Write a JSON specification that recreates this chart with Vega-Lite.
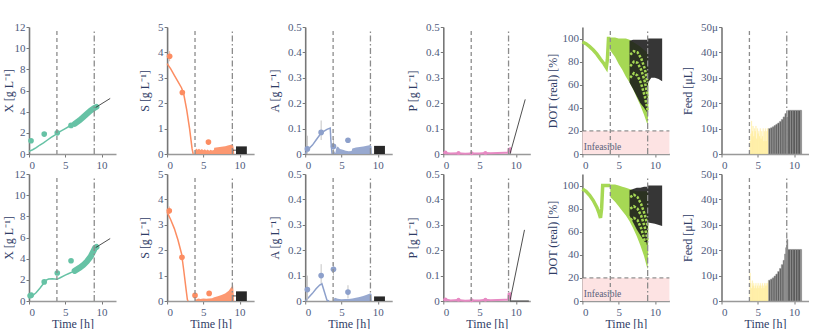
{
"$schema":"https://vega.github.io/schema/vega-lite/v6.json",
"background":"white",
"padding":{"left":2,"top":21,"right":0,"bottom":0},
"columns":6,
"spacing":{"row":-2,"column":10.1},
"concat":[
{"width":87,"height":127,
"encoding":{"x":{"field":"t","type":"quantitative","scale":{"domain":[0,12],"nice":false},"axis":{"values":[0,5,10],"title":null}},"y":{"field":"v","type":"quantitative","scale":{"domain":[0,12],"nice":false},"axis":{"values":[0,2,4,6,8,10,12],"title":"X [g L⁻¹]","minExtent":27,"maxExtent":27,"titleX":-20.7,"titleBaseline":"middle"}}},
"layer":[
{"data":{"values":[{"t":0,"v":0.25},{"t":0.5,"v":0.4},{"t":1,"v":0.6},{"t":1.5,"v":0.85},{"t":2,"v":1.05},{"t":2.5,"v":1.3},{"t":3,"v":1.55},{"t":3.5,"v":1.75},{"t":3.85,"v":1.95},{"t":4.5,"v":2.2},{"t":5,"v":2.4},{"t":5.5,"v":2.6},{"t":6,"v":2.75},{"t":6.3,"v":2.85}]},"mark":{"type":"line","color":"#66c2a5","strokeWidth":1.5}},
{"data":{"values":[{"t":6.3,"v":2.85},{"t":7,"v":3.2},{"t":7.5,"v":3.5},{"t":8,"v":3.8},{"t":8.5,"v":4.1},{"t":9,"v":4.35},{"t":9.3,"v":4.45}]},"mark":{"type":"line","color":"#66c2a5","strokeWidth":6,"strokeCap":"round"}},
{"data":{"values":[{"t":9.2,"v":4.4},{"t":11.2,"v":5.25}]},"mark":{"type":"line","color":"#222222","strokeWidth":0.8}},
{"data":{"values":[{"t":0.28,"v":1.25},{"t":2.1,"v":1.88},{"t":3.9,"v":2.0},{"t":5.8,"v":2.7}]},"mark":{"type":"circle","color":"#66c2a5","size":32,"opacity":1}},
{"data":{"values":[{"t":3.85,"v":0,"v2":11.8,"k":"a"},{"t":9.0,"v":0,"v2":11.8,"k":"b"}]},"mark":{"type":"rule","color":"#8c8c8c","strokeWidth":1.3},"encoding":{"y2":{"field":"v2"},"strokeDash":{"field":"k","type":"nominal","scale":{"domain":["a","b"],"range":[[4,3],[6,2.5,1.5,2.5]]},"legend":null}}}
]},
{"width":87,"height":127,
"encoding":{"x":{"field":"t","type":"quantitative","scale":{"domain":[0,12],"nice":false},"axis":{"values":[0,5,10],"title":null}},"y":{"field":"v","type":"quantitative","scale":{"domain":[0,5],"nice":false},"axis":{"values":[0,1,2,3,4,5],"title":"S [g L⁻¹]","minExtent":41,"maxExtent":41,"titleX":-22.5,"titleBaseline":"middle"}}},
"layer":[
{"data":{"values":[{"t":3.85,"v":0},{"t":3.86,"v":0.15},{"t":4.0,"v":0.22},{"t":4.2,"v":0.17},{"t":4.4,"v":0.21},{"t":4.6,"v":0.16},{"t":4.8,"v":0.2},{"t":5.0,"v":0.15},{"t":5.2,"v":0.19},{"t":5.4,"v":0.14},{"t":5.6,"v":0.18},{"t":5.8,"v":0.13},{"t":6.0,"v":0.17},{"t":6.2,"v":0.14},{"t":6.45,"v":0.16},{"t":6.5,"v":0.25},{"t":7,"v":0.27},{"t":7.5,"v":0.29},{"t":8,"v":0.31},{"t":8.5,"v":0.34},{"t":8.8,"v":0.36},{"t":9.0,"v":0.37},{"t":9.1,"v":0.35},{"t":9.2,"v":0.2},{"t":9.25,"v":0}]},"mark":{"type":"area","color":"#fc8d62","opacity":0.9}},
{"data":{"values":[{"t":0,"v":3.56},{"t":0.5,"v":3.35},{"t":1,"v":3.1},{"t":1.5,"v":2.85},{"t":2,"v":2.6},{"t":2.3,"v":2.35},{"t":2.7,"v":1.75},{"t":3.1,"v":1.0},{"t":3.45,"v":0.2},{"t":3.6,"v":0}]},"mark":{"type":"line","color":"#fc8d62","strokeWidth":1.5}},
{"data":{"values":[{"t":0.35,"v":3.65,"v2":4.05}]},"mark":{"type":"rule","color":"#f5b89e","strokeWidth":1},"encoding":{"y2":{"field":"v2"}}},
{"data":{"values":[{"t":0.35,"v":3.85},{"t":2.1,"v":2.42},{"t":5.7,"v":0.47}]},"mark":{"type":"circle","color":"#fc8d62","size":32,"opacity":1}},
{"data":{"values":[{"t":9.5,"t2":11,"v":0.3}]},"mark":{"type":"rect","color":"#111111","opacity":0.9},"encoding":{"x2":{"field":"t2"},"y2":{"datum":0}}},
{"data":{"values":[{"t":9.0,"v":0.15},{"t":9.5,"v":0.15}]},"mark":{"type":"line","color":"#222222","strokeWidth":0.8}},
{"data":{"values":[{"t":3.85,"v":0,"v2":4.9,"k":"a"},{"t":9.0,"v":0,"v2":4.9,"k":"b"}]},"mark":{"type":"rule","color":"#8c8c8c","strokeWidth":1.3},"encoding":{"y2":{"field":"v2"},"strokeDash":{"field":"k","type":"nominal","scale":{"domain":["a","b"],"range":[[4,3],[6,2.5,1.5,2.5]]},"legend":null}}}
]},
{"width":87,"height":127,
"encoding":{"x":{"field":"t","type":"quantitative","scale":{"domain":[0,12],"nice":false},"axis":{"values":[0,5,10],"title":null}},"y":{"field":"v","type":"quantitative","scale":{"domain":[0,0.5],"nice":false},"axis":{"values":[0,0.1,0.2,0.3,0.4,0.5],"format":"~g","title":"A [g L⁻¹]","minExtent":41,"maxExtent":41,"titleX":-31,"titleBaseline":"middle"}}},
"layer":[
{"data":{"values":[{"t":3.85,"v":0},{"t":3.86,"v":0.03},{"t":4.0,"v":0.012},{"t":4.15,"v":0.003},{"t":4.3,"v":0.025},{"t":4.5,"v":0.03},{"t":4.8,"v":0.02},{"t":5.2,"v":0.017},{"t":5.6,"v":0.013},{"t":6.0,"v":0.011},{"t":6.4,"v":0.012},{"t":6.5,"v":0.022},{"t":7,"v":0.026},{"t":7.5,"v":0.028},{"t":8,"v":0.03},{"t":8.5,"v":0.032},{"t":9,"v":0.035},{"t":9.15,"v":0.03},{"t":9.2,"v":0}]},"mark":{"type":"area","color":"#8da0cb","opacity":0.9}},
{"data":{"values":[{"t":0,"v":0},{"t":0.3,"v":0.015},{"t":1,"v":0.035},{"t":1.5,"v":0.055},{"t":2,"v":0.075},{"t":2.5,"v":0.088},{"t":3,"v":0.097},{"t":3.45,"v":0.102},{"t":3.55,"v":0.05},{"t":3.7,"v":0}]},"mark":{"type":"line","color":"#8da0cb","strokeWidth":1.5}},
{"data":{"values":[{"t":0.3,"v":0,"v2":0.072},{"t":2.2,"v":0.055,"v2":0.132},{"t":3.9,"v":0.005,"v2":0.06},{"t":5.9,"v":0.045,"v2":0.063}]},"mark":{"type":"rule","color":"#c4c4c4","strokeWidth":1},"encoding":{"y2":{"field":"v2"}}},
{"data":{"values":[{"t":0.3,"v":0.02},{"t":2.2,"v":0.085},{"t":3.9,"v":0.03},{"t":5.9,"v":0.054}]},"mark":{"type":"circle","color":"#8da0cb","size":32,"opacity":1}},
{"data":{"values":[{"t":9.5,"t2":11,"v":0.032}]},"mark":{"type":"rect","color":"#111111","opacity":0.9},"encoding":{"x2":{"field":"t2"},"y2":{"datum":0}}},
{"data":{"values":[{"t":3.85,"v":0,"v2":0.49,"k":"a"},{"t":9.0,"v":0,"v2":0.49,"k":"b"}]},"mark":{"type":"rule","color":"#8c8c8c","strokeWidth":1.3},"encoding":{"y2":{"field":"v2"},"strokeDash":{"field":"k","type":"nominal","scale":{"domain":["a","b"],"range":[[4,3],[6,2.5,1.5,2.5]]},"legend":null}}}
]},
{"width":87,"height":127,
"encoding":{"x":{"field":"t","type":"quantitative","scale":{"domain":[0,12],"nice":false},"axis":{"values":[0,5,10],"title":null}},"y":{"field":"v","type":"quantitative","scale":{"domain":[0,0.5],"nice":false},"axis":{"values":[0,0.1,0.2,0.3,0.4,0.5],"format":"~g","title":"P [g L⁻¹]","minExtent":41,"maxExtent":41,"titleX":-31,"titleBaseline":"middle"}}},
"layer":[
{"data":{"values":[{"t":0,"v":0.005},{"t":0.3,"v":0.004},{"t":1,"v":0.002},{"t":2,"v":0.003},{"t":3,"v":0.001},{"t":3.85,"v":0.002},{"t":5,"v":0.002},{"t":5.8,"v":0.004},{"t":6.5,"v":0.003},{"t":7.5,"v":0.004},{"t":8.5,"v":0.005},{"t":8.95,"v":0.005},{"t":9.0,"v":0.02},{"t":9.2,"v":0.022},{"t":9.25,"v":0.005}]},"mark":{"type":"line","color":"#e78ac3","strokeWidth":2}},
{"data":{"values":[{"t":0.3,"v":0.006},{"t":2.1,"v":0.004},{"t":3.9,"v":0.003},{"t":5.8,"v":0.004}]},"mark":{"type":"circle","color":"#e78ac3","size":16,"opacity":1}},
{"data":{"values":[{"t":9.2,"v":0},{"t":11.3,"v":0.215}]},"mark":{"type":"line","color":"#222222","strokeWidth":0.8}},
{"data":{"values":[{"t":3.85,"v":0,"v2":0.49,"k":"a"},{"t":9.0,"v":0,"v2":0.49,"k":"b"}]},"mark":{"type":"rule","color":"#8c8c8c","strokeWidth":1.3},"encoding":{"y2":{"field":"v2"},"strokeDash":{"field":"k","type":"nominal","scale":{"domain":["a","b"],"range":[[4,3],[6,2.5,1.5,2.5]]},"legend":null}}}
]},
{"width":87,"height":127,
"encoding":{"x":{"field":"t","type":"quantitative","scale":{"domain":[0,12],"nice":false},"axis":{"values":[0,5,10],"title":null}},"y":{"field":"v","type":"quantitative","scale":{"domain":[0,110],"nice":false},"axis":{"values":[0,20,40,60,80,100],"title":"DOT (real) [%]","minExtent":41,"maxExtent":41,"titleX":-30,"titleBaseline":"middle"}}},
"layer":[
{"data":{"values":[{"t":0,"t2":12,"v":20}]},"mark":{"type":"rect","color":"#fde3e3"},"encoding":{"x2":{"field":"t2"},"y2":{"datum":0}}},
{"data":{"values":[{"t":0,"t2":12,"v":20}]},"mark":{"type":"rule","color":"#777777","strokeDash":[4,3],"strokeWidth":1},"encoding":{"x2":{"field":"t2"}}},
{"data":{"values":[{"t":0,"v":97},{"t":0.5,"v":95.5},{"t":1,"v":93},{"t":1.5,"v":90},{"t":2,"v":86.5},{"t":2.5,"v":82},{"t":3,"v":78},{"t":3.3,"v":75},{"t":3.45,"v":82},{"t":3.6,"v":100},{"t":3.85,"v":100}]},"mark":{"type":"line","color":"#a6d854","strokeWidth":3.5}},
{"data":{"values":[{"t":3.6,"v":100,"v2":99},{"t":3.8,"v":101,"v2":90},{"t":4.5,"v":101,"v2":84},{"t":5,"v":100,"v2":78},{"t":5.5,"v":100,"v2":73},{"t":6,"v":100,"v2":67},{"t":6.5,"v":99,"v2":62},{"t":7,"v":97,"v2":56},{"t":7.5,"v":95,"v2":49},{"t":8,"v":93,"v2":42},{"t":8.5,"v":90,"v2":34},{"t":9,"v":88,"v2":25},{"t":9.1,"v":70,"v2":40}]},"mark":{"type":"area","color":"#a6d854","opacity":1},"encoding":{"y2":{"field":"v2"}}},
{"data":{"values":[{"t":6.5,"v":98,"v2":62},{"t":7,"v":99,"v2":56},{"t":7.5,"v":99,"v2":50},{"t":8,"v":99,"v2":44},{"t":8.5,"v":99,"v2":40},{"t":8.95,"v":99,"v2":36},{"t":9.05,"v":100,"v2":62},{"t":9.5,"v":100,"v2":66},{"t":10,"v":100,"v2":66},{"t":10.5,"v":100,"v2":65},{"t":11,"v":100,"v2":63}]},"mark":{"type":"area","color":"#1a1a1a","opacity":0.88},"encoding":{"y2":{"field":"v2"}}},
{"data":{"values":[{"s":1,"t":6.6,"v":86},{"s":1,"t":7.1,"v":89},{"s":1,"t":7.6,"v":88},{"s":1,"t":8.1,"v":83},{"s":1,"t":8.6,"v":74},{"s":1,"t":9.0,"v":62},{"s":2,"t":6.6,"v":76},{"s":2,"t":7.1,"v":80},{"s":2,"t":7.6,"v":79},{"s":2,"t":8.1,"v":73},{"s":2,"t":8.6,"v":63},{"s":2,"t":9.0,"v":50},{"s":3,"t":6.6,"v":66},{"s":3,"t":7.1,"v":70},{"s":3,"t":7.6,"v":68},{"s":3,"t":8.1,"v":61},{"s":3,"t":8.6,"v":50},{"s":3,"t":9.0,"v":38}]},"mark":{"type":"line","color":"#a6d854","strokeWidth":2.5,"strokeDash":[2.5,1.5]},"encoding":{"detail":{"field":"s","type":"nominal"}}},
{"data":{"values":[{"t":0.2,"v":1.5,"label":"Infeasible"}]},"mark":{"type":"text","align":"left","baseline":"bottom","fontSize":9.5,"color":"#5a5f7a","font":"Liberation Serif"},"encoding":{"text":{"field":"label"}}},
{"data":{"values":[{"t":3.85,"v":0,"v2":108,"k":"a"},{"t":9.0,"v":0,"v2":108,"k":"b"}]},"mark":{"type":"rule","color":"#8c8c8c","strokeWidth":1.3},"encoding":{"y2":{"field":"v2"},"strokeDash":{"field":"k","type":"nominal","scale":{"domain":["a","b"],"range":[[4,3],[6,2.5,1.5,2.5]]},"legend":null}}}
]},
{"width":87,"height":127,
"encoding":{"x":{"field":"t","type":"quantitative","scale":{"domain":[0,12],"nice":false},"axis":{"values":[0,5,10],"title":null}},"y":{"field":"v","type":"quantitative","scale":{"domain":[0,50],"nice":false},"axis":{"values":[0,10,20,30,40,50],"labelExpr":"datum.value == 0 ? '0' : datum.value + 'μ'","title":"Feed [μL]","minExtent":41,"maxExtent":41,"titleX":-34,"titleBaseline":"middle"}}},
"layer":[
{"data":{"values":[{"t":3.9,"t2":4.0,"v":5},{"t":4.0,"t2":4.1,"v":8},{"t":4.1,"t2":4.2,"v":13},{"t":4.2,"t2":4.3,"v":9},{"t":4.3,"t2":4.4,"v":11},{"t":4.4,"t2":4.5,"v":7},{"t":4.5,"t2":4.6,"v":10},{"t":4.6,"t2":4.7,"v":9},{"t":4.7,"t2":4.8,"v":11},{"t":4.8,"t2":4.9,"v":6},{"t":4.9,"t2":5.0,"v":10},{"t":5.0,"t2":5.1,"v":8},{"t":5.1,"t2":5.2,"v":9},{"t":5.2,"t2":5.3,"v":7},{"t":5.3,"t2":5.4,"v":10},{"t":5.4,"t2":5.5,"v":6},{"t":5.5,"t2":5.6,"v":9},{"t":5.6,"t2":5.7,"v":7},{"t":5.7,"t2":5.8,"v":10},{"t":5.8,"t2":5.9,"v":5},{"t":5.9,"t2":6.0,"v":9},{"t":6.0,"t2":6.1,"v":10},{"t":6.1,"t2":6.2,"v":5},{"t":6.2,"t2":6.3,"v":9},{"t":6.3,"t2":6.4,"v":10},{"t":6.4,"t2":6.5,"v":10}]},"mark":{"type":"rect","color":"#ffd92f","opacity":0.55,"stroke":"#fff3b0","strokeWidth":0.4},"encoding":{"x2":{"field":"t2"},"y2":{"datum":0}}},
{"data":{"values":[{"t":6.5,"t2":6.75,"v":10},{"t":6.75,"t2":7.0,"v":10.3},{"t":7.0,"t2":7.25,"v":10.7},{"t":7.25,"t2":7.5,"v":11.2},{"t":7.5,"t2":7.75,"v":11.7},{"t":7.75,"t2":8.0,"v":12.2},{"t":8.0,"t2":8.25,"v":12.8},{"t":8.25,"t2":8.5,"v":13.6},{"t":8.5,"t2":8.75,"v":14.6},{"t":8.75,"t2":8.95,"v":15.9},{"t":8.95,"t2":9.15,"v":14.6},{"t":9.15,"t2":9.5,"v":17.2},{"t":9.5,"t2":9.85,"v":17.2},{"t":9.85,"t2":10.2,"v":17.2},{"t":10.2,"t2":10.55,"v":17.2},{"t":10.55,"t2":10.9,"v":17.2},{"t":10.9,"t2":11.05,"v":17.2}]},"mark":{"type":"rect","color":"#5a5a5a","stroke":"#9a9a9a","strokeWidth":0.6},"encoding":{"x2":{"field":"t2"},"y2":{"datum":0}}},
{"data":{"values":[{"t":3.85,"v":0,"v2":49,"k":"a"},{"t":9.0,"v":0,"v2":49,"k":"b"}]},"mark":{"type":"rule","color":"#8c8c8c","strokeWidth":1.3},"encoding":{"y2":{"field":"v2"},"strokeDash":{"field":"k","type":"nominal","scale":{"domain":["a","b"],"range":[[4,3],[6,2.5,1.5,2.5]]},"legend":null}}}
]},
{"width":87,"height":127,
"encoding":{"x":{"field":"t","type":"quantitative","scale":{"domain":[0,12],"nice":false},"axis":{"values":[0,5,10],"title":"Time [h]"}},"y":{"field":"v","type":"quantitative","scale":{"domain":[0,12],"nice":false},"axis":{"values":[0,2,4,6,8,10,12],"title":"X [g L⁻¹]","minExtent":27,"maxExtent":27,"titleX":-20.7,"titleBaseline":"middle"}}},
"layer":[
{"data":{"values":[{"t":0,"v":0.3},{"t":0.5,"v":0.5},{"t":1,"v":0.8},{"t":1.5,"v":1.2},{"t":2,"v":1.65},{"t":2.3,"v":1.95},{"t":2.7,"v":2.08},{"t":3.2,"v":2.1},{"t":3.85,"v":2.05},{"t":4.3,"v":2.2},{"t":5,"v":2.45},{"t":5.5,"v":2.6},{"t":6,"v":2.75},{"t":6.3,"v":2.85}]},"mark":{"type":"line","color":"#66c2a5","strokeWidth":1.5}},
{"data":{"values":[{"t":6.3,"v":2.85},{"t":7,"v":3.15},{"t":7.5,"v":3.4},{"t":8,"v":3.75},{"t":8.5,"v":4.2},{"t":8.8,"v":4.6},{"t":9.1,"v":5.0},{"t":9.3,"v":5.1}]},"mark":{"type":"line","color":"#66c2a5","strokeWidth":6,"strokeCap":"round"}},
{"data":{"values":[{"t":9.2,"v":5.05},{"t":11.2,"v":5.9}]},"mark":{"type":"line","color":"#222222","strokeWidth":0.8}},
{"data":{"values":[{"t":0.15,"v":0.5},{"t":0.3,"v":0.55},{"t":2.1,"v":1.8},{"t":3.9,"v":2.65},{"t":5.8,"v":3.8}]},"mark":{"type":"circle","color":"#66c2a5","size":32,"opacity":1}},
{"data":{"values":[{"t":3.85,"v":0,"v2":11.8,"k":"a"},{"t":9.0,"v":0,"v2":11.8,"k":"b"}]},"mark":{"type":"rule","color":"#8c8c8c","strokeWidth":1.3},"encoding":{"y2":{"field":"v2"},"strokeDash":{"field":"k","type":"nominal","scale":{"domain":["a","b"],"range":[[4,3],[6,2.5,1.5,2.5]]},"legend":null}}}
]},
{"width":87,"height":127,
"encoding":{"x":{"field":"t","type":"quantitative","scale":{"domain":[0,12],"nice":false},"axis":{"values":[0,5,10],"title":"Time [h]"}},"y":{"field":"v","type":"quantitative","scale":{"domain":[0,5],"nice":false},"axis":{"values":[0,1,2,3,4,5],"title":"S [g L⁻¹]","minExtent":41,"maxExtent":41,"titleX":-22.5,"titleBaseline":"middle"}}},
"layer":[
{"data":{"values":[{"t":3.85,"v":0},{"t":3.86,"v":0.1},{"t":4.0,"v":0.06},{"t":4.3,"v":0.1},{"t":4.6,"v":0.08},{"t":5,"v":0.1},{"t":5.4,"v":0.09},{"t":5.8,"v":0.1},{"t":6.2,"v":0.11},{"t":6.5,"v":0.15},{"t":7,"v":0.19},{"t":7.5,"v":0.24},{"t":8,"v":0.3},{"t":8.5,"v":0.4},{"t":8.8,"v":0.52},{"t":9.0,"v":0.6},{"t":9.1,"v":0.62},{"t":9.2,"v":0.2},{"t":9.25,"v":0}]},"mark":{"type":"area","color":"#fc8d62","opacity":0.9}},
{"data":{"values":[{"t":0,"v":3.5},{"t":0.5,"v":3.2},{"t":1,"v":2.85},{"t":1.5,"v":2.4},{"t":2,"v":1.85},{"t":2.3,"v":1.2},{"t":2.6,"v":0.5},{"t":2.8,"v":0.05},{"t":2.9,"v":0}]},"mark":{"type":"line","color":"#fc8d62","strokeWidth":1.5}},
{"data":{"values":[{"t":0.3,"v":3.42,"v2":3.72}]},"mark":{"type":"rule","color":"#f5b89e","strokeWidth":1},"encoding":{"y2":{"field":"v2"}}},
{"data":{"values":[{"t":0.3,"v":3.55},{"t":2.05,"v":1.72},{"t":3.85,"v":0.22},{"t":5.8,"v":0.3}]},"mark":{"type":"circle","color":"#fc8d62","size":32,"opacity":1}},
{"data":{"values":[{"t":9.5,"t2":11,"v":0.38}]},"mark":{"type":"rect","color":"#111111","opacity":0.9},"encoding":{"x2":{"field":"t2"},"y2":{"datum":0}}},
{"data":{"values":[{"t":9.0,"v":0.2},{"t":9.5,"v":0.2}]},"mark":{"type":"line","color":"#222222","strokeWidth":0.8}},
{"data":{"values":[{"t":3.85,"v":0,"v2":4.9,"k":"a"},{"t":9.0,"v":0,"v2":4.9,"k":"b"}]},"mark":{"type":"rule","color":"#8c8c8c","strokeWidth":1.3},"encoding":{"y2":{"field":"v2"},"strokeDash":{"field":"k","type":"nominal","scale":{"domain":["a","b"],"range":[[4,3],[6,2.5,1.5,2.5]]},"legend":null}}}
]},
{"width":87,"height":127,
"encoding":{"x":{"field":"t","type":"quantitative","scale":{"domain":[0,12],"nice":false},"axis":{"values":[0,5,10],"title":"Time [h]"}},"y":{"field":"v","type":"quantitative","scale":{"domain":[0,0.5],"nice":false},"axis":{"values":[0,0.1,0.2,0.3,0.4,0.5],"format":"~g","title":"A [g L⁻¹]","minExtent":41,"maxExtent":41,"titleX":-31,"titleBaseline":"middle"}}},
"layer":[
{"data":{"values":[{"t":3.85,"v":0},{"t":3.86,"v":0.006},{"t":4.1,"v":0.013},{"t":4.5,"v":0.009},{"t":5,"v":0.007},{"t":5.5,"v":0.008},{"t":6,"v":0.008},{"t":6.5,"v":0.01},{"t":7,"v":0.013},{"t":7.5,"v":0.016},{"t":8,"v":0.02},{"t":8.5,"v":0.025},{"t":9,"v":0.031},{"t":9.15,"v":0.028},{"t":9.2,"v":0}]},"mark":{"type":"area","color":"#8da0cb","opacity":0.9}},
{"data":{"values":[{"t":0,"v":0},{"t":0.5,"v":0.015},{"t":1,"v":0.03},{"t":1.5,"v":0.048},{"t":2,"v":0.063},{"t":2.3,"v":0.068},{"t":2.6,"v":0.04},{"t":3.0,"v":0.003},{"t":3.3,"v":0}]},"mark":{"type":"line","color":"#8da0cb","strokeWidth":1.5}},
{"data":{"values":[{"t":0.3,"v":0,"v2":0.1},{"t":2.2,"v":0.07,"v2":0.145},{"t":3.9,"v":0.1,"v2":0.152},{"t":5.9,"v":0.01,"v2":0.062}]},"mark":{"type":"rule","color":"#c4c4c4","strokeWidth":1},"encoding":{"y2":{"field":"v2"}}},
{"data":{"values":[{"t":0.3,"v":0.045},{"t":2.2,"v":0.1},{"t":3.9,"v":0.125},{"t":5.9,"v":0.035}]},"mark":{"type":"circle","color":"#8da0cb","size":32,"opacity":1}},
{"data":{"values":[{"t":9.5,"t2":11,"v":0.018}]},"mark":{"type":"rect","color":"#111111","opacity":0.9},"encoding":{"x2":{"field":"t2"},"y2":{"datum":0}}},
{"data":{"values":[{"t":3.85,"v":0,"v2":0.49,"k":"a"},{"t":9.0,"v":0,"v2":0.49,"k":"b"}]},"mark":{"type":"rule","color":"#8c8c8c","strokeWidth":1.3},"encoding":{"y2":{"field":"v2"},"strokeDash":{"field":"k","type":"nominal","scale":{"domain":["a","b"],"range":[[4,3],[6,2.5,1.5,2.5]]},"legend":null}}}
]},
{"width":87,"height":127,
"encoding":{"x":{"field":"t","type":"quantitative","scale":{"domain":[0,12],"nice":false},"axis":{"values":[0,5,10],"title":"Time [h]"}},"y":{"field":"v","type":"quantitative","scale":{"domain":[0,0.5],"nice":false},"axis":{"values":[0,0.1,0.2,0.3,0.4,0.5],"format":"~g","title":"P [g L⁻¹]","minExtent":41,"maxExtent":41,"titleX":-31,"titleBaseline":"middle"}}},
"layer":[
{"data":{"values":[{"t":0,"v":0.005},{"t":0.3,"v":0.006},{"t":1,"v":0.002},{"t":2,"v":0.004},{"t":3,"v":0.001},{"t":3.85,"v":0.002},{"t":5,"v":0.002},{"t":5.8,"v":0.005},{"t":6.5,"v":0.003},{"t":7.5,"v":0.004},{"t":8.5,"v":0.005},{"t":8.95,"v":0.005},{"t":9.0,"v":0.028},{"t":9.2,"v":0.03},{"t":9.25,"v":0.005}]},"mark":{"type":"line","color":"#e78ac3","strokeWidth":2}},
{"data":{"values":[{"t":0.3,"v":0.006},{"t":2.1,"v":0.005},{"t":3.9,"v":0.003},{"t":5.8,"v":0.005}]},"mark":{"type":"circle","color":"#e78ac3","size":16,"opacity":1}},
{"data":{"values":[{"t":9.2,"v":0},{"t":11.2,"v":0.28}]},"mark":{"type":"line","color":"#222222","strokeWidth":0.8}},
{"data":{"values":[{"t":9.2,"v":0},{"t":11.8,"v":0}]},"mark":{"type":"line","color":"#222222","strokeWidth":0.8}},
{"data":{"values":[{"t":3.85,"v":0,"v2":0.49,"k":"a"},{"t":9.0,"v":0,"v2":0.49,"k":"b"}]},"mark":{"type":"rule","color":"#8c8c8c","strokeWidth":1.3},"encoding":{"y2":{"field":"v2"},"strokeDash":{"field":"k","type":"nominal","scale":{"domain":["a","b"],"range":[[4,3],[6,2.5,1.5,2.5]]},"legend":null}}}
]},
{"width":87,"height":127,
"encoding":{"x":{"field":"t","type":"quantitative","scale":{"domain":[0,12],"nice":false},"axis":{"values":[0,5,10],"title":"Time [h]"}},"y":{"field":"v","type":"quantitative","scale":{"domain":[0,110],"nice":false},"axis":{"values":[0,20,40,60,80,100],"title":"DOT (real) [%]","minExtent":41,"maxExtent":41,"titleX":-30,"titleBaseline":"middle"}}},
"layer":[
{"data":{"values":[{"t":0,"t2":12,"v":20}]},"mark":{"type":"rect","color":"#fde3e3"},"encoding":{"x2":{"field":"t2"},"y2":{"datum":0}}},
{"data":{"values":[{"t":0,"t2":12,"v":20}]},"mark":{"type":"rule","color":"#777777","strokeDash":[4,3],"strokeWidth":1},"encoding":{"x2":{"field":"t2"}}},
{"data":{"values":[{"t":0,"v":97},{"t":0.5,"v":95},{"t":1,"v":91.5},{"t":1.5,"v":87},{"t":2,"v":81},{"t":2.3,"v":76},{"t":2.5,"v":72},{"t":2.65,"v":80},{"t":2.8,"v":100},{"t":3.85,"v":100}]},"mark":{"type":"line","color":"#a6d854","strokeWidth":3.5}},
{"data":{"values":[{"t":3.85,"v":101,"v2":90},{"t":4.5,"v":101,"v2":86},{"t":5,"v":100,"v2":82},{"t":5.5,"v":99,"v2":78},{"t":6,"v":98,"v2":74},{"t":6.5,"v":97,"v2":69},{"t":7,"v":96,"v2":63},{"t":7.5,"v":95,"v2":56},{"t":8,"v":95,"v2":48},{"t":8.5,"v":95,"v2":39},{"t":9,"v":95,"v2":27},{"t":9.1,"v":90,"v2":60}]},"mark":{"type":"area","color":"#a6d854","opacity":1},"encoding":{"y2":{"field":"v2"}}},
{"data":{"values":[{"t":6.5,"v":96,"v2":74},{"t":7,"v":97,"v2":68},{"t":7.5,"v":98,"v2":62},{"t":8,"v":98,"v2":57},{"t":8.5,"v":99,"v2":52},{"t":8.95,"v":99,"v2":48},{"t":9.05,"v":100,"v2":68},{"t":10,"v":100,"v2":67},{"t":11,"v":100,"v2":65}]},"mark":{"type":"area","color":"#1a1a1a","opacity":0.88},"encoding":{"y2":{"field":"v2"}}},
{"data":{"values":[{"s":1,"t":6.6,"v":90},{"s":1,"t":7.1,"v":92},{"s":1,"t":7.6,"v":90},{"s":1,"t":8.1,"v":84},{"s":1,"t":8.6,"v":75},{"s":1,"t":9.0,"v":65},{"s":2,"t":6.6,"v":80},{"s":2,"t":7.1,"v":82},{"s":2,"t":7.6,"v":80},{"s":2,"t":8.1,"v":74},{"s":2,"t":8.6,"v":64},{"s":2,"t":9.0,"v":53},{"s":3,"t":6.6,"v":70},{"s":3,"t":7.1,"v":72},{"s":3,"t":7.6,"v":70},{"s":3,"t":8.1,"v":63},{"s":3,"t":8.6,"v":52},{"s":3,"t":9.0,"v":40}]},"mark":{"type":"line","color":"#a6d854","strokeWidth":2.5,"strokeDash":[2.5,1.5]},"encoding":{"detail":{"field":"s","type":"nominal"}}},
{"data":{"values":[{"t":0.2,"v":1.5,"label":"Infeasible"}]},"mark":{"type":"text","align":"left","baseline":"bottom","fontSize":9.5,"color":"#5a5f7a","font":"Liberation Serif"},"encoding":{"text":{"field":"label"}}},
{"data":{"values":[{"t":3.85,"v":0,"v2":108,"k":"a"},{"t":9.0,"v":0,"v2":108,"k":"b"}]},"mark":{"type":"rule","color":"#8c8c8c","strokeWidth":1.3},"encoding":{"y2":{"field":"v2"},"strokeDash":{"field":"k","type":"nominal","scale":{"domain":["a","b"],"range":[[4,3],[6,2.5,1.5,2.5]]},"legend":null}}}
]},
{"width":87,"height":127,
"encoding":{"x":{"field":"t","type":"quantitative","scale":{"domain":[0,12],"nice":false},"axis":{"values":[0,5,10],"title":"Time [h]"}},"y":{"field":"v","type":"quantitative","scale":{"domain":[0,50],"nice":false},"axis":{"values":[0,10,20,30,40,50],"labelExpr":"datum.value == 0 ? '0' : datum.value + 'μ'","title":"Feed [μL]","minExtent":41,"maxExtent":41,"titleX":-34,"titleBaseline":"middle"}}},
"layer":[
{"data":{"values":[{"t":3.9,"t2":4.0,"v":11},{"t":4.0,"t2":4.1,"v":7},{"t":4.1,"t2":4.2,"v":5},{"t":4.2,"t2":4.3,"v":8},{"t":4.3,"t2":4.4,"v":6},{"t":4.4,"t2":4.5,"v":7},{"t":4.5,"t2":4.6,"v":5},{"t":4.6,"t2":4.7,"v":6},{"t":4.7,"t2":4.8,"v":7},{"t":4.8,"t2":4.9,"v":5},{"t":4.9,"t2":5.0,"v":6},{"t":5.0,"t2":5.1,"v":7},{"t":5.1,"t2":5.2,"v":5},{"t":5.2,"t2":5.3,"v":6},{"t":5.3,"t2":5.4,"v":7},{"t":5.4,"t2":5.5,"v":6},{"t":5.5,"t2":5.6,"v":5},{"t":5.6,"t2":5.7,"v":7},{"t":5.7,"t2":5.8,"v":6},{"t":5.8,"t2":5.9,"v":5},{"t":5.9,"t2":6.0,"v":7},{"t":6.0,"t2":6.1,"v":6},{"t":6.1,"t2":6.2,"v":7},{"t":6.2,"t2":6.3,"v":6},{"t":6.3,"t2":6.4,"v":7},{"t":6.4,"t2":6.5,"v":8}]},"mark":{"type":"rect","color":"#ffd92f","opacity":0.55,"stroke":"#fff3b0","strokeWidth":0.4},"encoding":{"x2":{"field":"t2"},"y2":{"datum":0}}},
{"data":{"values":[{"t":6.5,"t2":6.75,"v":8.2},{"t":6.75,"t2":7.0,"v":8.6},{"t":7.0,"t2":7.25,"v":9.1},{"t":7.25,"t2":7.5,"v":9.8},{"t":7.5,"t2":7.75,"v":10.6},{"t":7.75,"t2":8.0,"v":11.6},{"t":8.0,"t2":8.25,"v":12.8},{"t":8.25,"t2":8.5,"v":14.3},{"t":8.5,"t2":8.7,"v":16},{"t":8.7,"t2":8.85,"v":18.5},{"t":8.85,"t2":9.0,"v":21},{"t":9.0,"t2":9.15,"v":24.2},{"t":9.15,"t2":9.5,"v":20.3},{"t":9.5,"t2":9.85,"v":20.3},{"t":9.85,"t2":10.2,"v":20.3},{"t":10.2,"t2":10.55,"v":20.3},{"t":10.55,"t2":10.9,"v":20.3},{"t":10.9,"t2":11.05,"v":20.3}]},"mark":{"type":"rect","color":"#5a5a5a","stroke":"#9a9a9a","strokeWidth":0.6},"encoding":{"x2":{"field":"t2"},"y2":{"datum":0}}},
{"data":{"values":[{"t":3.85,"v":0,"v2":49,"k":"a"},{"t":9.0,"v":0,"v2":49,"k":"b"}]},"mark":{"type":"rule","color":"#8c8c8c","strokeWidth":1.3},"encoding":{"y2":{"field":"v2"},"strokeDash":{"field":"k","type":"nominal","scale":{"domain":["a","b"],"range":[[4,3],[6,2.5,1.5,2.5]]},"legend":null}}}
]}
],
"config":{"view":{"stroke":null},"font":"Liberation Serif",
"axis":{"labelFont":"Liberation Serif","titleFont":"Liberation Serif","labelFontSize":11,"titleFontSize":12,"titleFontWeight":"normal","labelColor":"#4f5b7d","titleColor":"#2f3c66","grid":false,"domainColor":"#777777","tickColor":"#777777","tickSize":3,"labelPadding":1,"titlePadding":2},
"axisY":{"domainWidth":1.6},
"axisX":{"domainWidth":1.4,"domainColor":"#999999","titlePadding":1,"labelPadding":2},
"text":{"font":"Liberation Serif"}}
}
